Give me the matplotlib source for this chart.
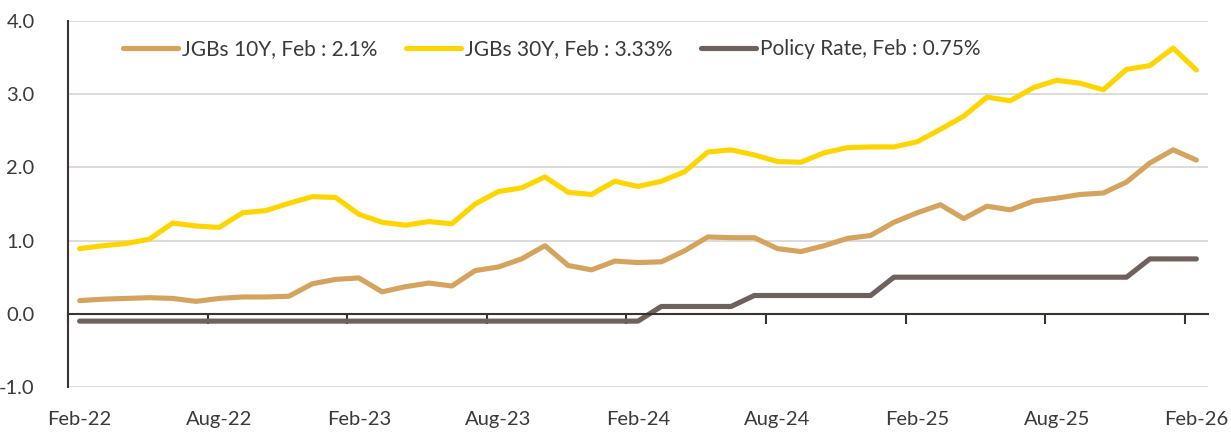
import matplotlib
matplotlib.use("Agg")
import matplotlib.pyplot as plt
import numpy as np

# monthly observations Feb-22 .. Feb-26
jgb_10y = [0.18, 0.20, 0.21, 0.22, 0.21, 0.17, 0.21, 0.23, 0.23, 0.24,
           0.41, 0.47, 0.49, 0.30, 0.37, 0.42, 0.38, 0.59, 0.64, 0.75,
           0.93, 0.66, 0.60, 0.72, 0.70, 0.71, 0.86, 1.05, 1.04, 1.04,
           0.89, 0.85, 0.93, 1.03, 1.07, 1.25, 1.38, 1.49, 1.30, 1.47,
           1.42, 1.54, 1.58, 1.63, 1.65, 1.80, 2.06, 2.24, 2.10]
jgb_30y = [0.89, 0.93, 0.96, 1.02, 1.24, 1.20, 1.18, 1.38, 1.41, 1.51,
           1.60, 1.59, 1.36, 1.25, 1.21, 1.26, 1.23, 1.50, 1.67, 1.72,
           1.87, 1.66, 1.63, 1.81, 1.74, 1.81, 1.94, 2.21, 2.24, 2.17,
           2.08, 2.07, 2.20, 2.27, 2.28, 2.28, 2.35, 2.52, 2.70, 2.96,
           2.91, 3.09, 3.19, 3.15, 3.06, 3.34, 3.39, 3.63, 3.33]
policy_rate = [-0.1] * 25 + [0.1] * 4 + [0.25] * 6 + [0.5] * 11 + [0.75] * 3

tick_labels = ["Feb-22", "Aug-22", "Feb-23", "Aug-23", "Feb-24",
               "Aug-24", "Feb-25", "Aug-25", "Feb-26"]
series_names = ["JGBs 10Y, Feb : 2.1%", "JGBs 30Y, Feb : 3.33%",
                "Policy Rate, Feb : 0.75%"]

TEXT = "#3a3a3a"
AXIS = "#3b3330"
colors = ["#D4A45F", "#FFD500", "#6E625F"]

plt.rcParams["font.family"] = ["Lato", "DejaVu Sans"]

fig = plt.figure(figsize=(12.31, 4.34), dpi=100)
ax = fig.add_axes([68 / 1231, 47 / 434, 1140 / 1231, 366 / 434])

x = np.arange(len(jgb_10y))
for vals, name, c in zip([jgb_10y, jgb_30y, policy_rate], series_names, colors):
    ax.plot(x, vals, color=c, lw=3.7, label=name,
            solid_capstyle="round", solid_joinstyle="round")

ax.set_xlim(-0.5, len(x) - 0.5)
ax.set_ylim(-1.0, 4.0)
ax.set_yticks(np.arange(-1, 5, 1.0))
ax.set_yticklabels([f"{v:.1f}" for v in np.arange(-1, 5, 1.0)])
for v in np.arange(-1, 5, 1.0):
    if v != 0:
        ax.axhline(v, color="#d9d9d9", lw=1.3, zorder=0)

for s in ["top", "right"]:
    ax.spines[s].set_visible(False)
ax.spines["left"].set_color(AXIS)
ax.spines["left"].set_linewidth(1.5)
ax.spines["bottom"].set_position(("data", 0))
ax.spines["bottom"].set_color(AXIS)
ax.spines["bottom"].set_linewidth(1.5)

ax.set_xticks(x[::6])
ax.set_xticklabels(tick_labels)
ax.set_xticks(x[::6] - 0.5, minor=True)
ax.tick_params(axis="x", which="major", length=0, pad=70,
               labelsize=14.5, labelcolor=TEXT)
ax.tick_params(axis="x", which="minor", length=7, width=1.5,
               color=AXIS, direction="out")
ax.tick_params(axis="y", length=0, pad=24, labelsize=14.5, labelcolor=TEXT)

leg = ax.legend(loc="center left", bbox_to_anchor=(0.048, 0.923), ncol=3,
                frameon=False, fontsize=15, handlelength=2.65,
                handletextpad=0.2, columnspacing=1.35, borderpad=0,
                borderaxespad=0)
for t in leg.get_texts():
    t.set_color(TEXT)

fig.savefig("out.png", dpi=100)
